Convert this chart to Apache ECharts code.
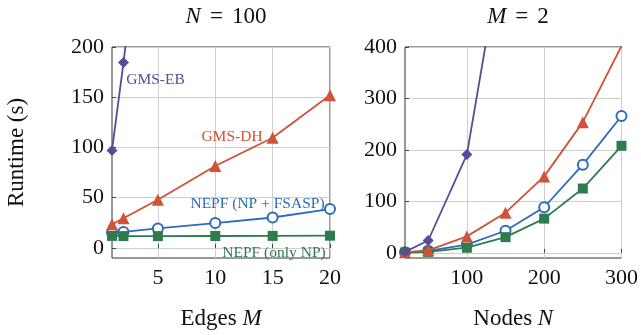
<!DOCTYPE html>
<html>
<head>
<meta charset="utf-8">
<script src="https://cdn.jsdelivr.net/npm/echarts@6/dist/echarts.min.js"></script>
<style>html,body{margin:0;padding:0;background:#fff}#c{width:641px;height:335px}</style>
</head>
<body>
<div id="c"></div>
<script>
// Left panel: N = 100, varying edges M
const edgesM = [1, 2, 5, 10, 15, 20];
const leftEB = [97, 184.5, 470, null, null, null];
const leftDH = [23.5, 29.6, 48, 81.5, 109.7, 152];
const leftNEPF = [15.5, 16, 19.4, 24.8, 30.3, 38.7];
const leftOnlyNP = [12, 11.8, 11.8, 11.9, 12, 12.2];
const leftXTicks = [5, 10, 15, 20];
const leftYTicks = [0, 50, 100, 150, 200];

// Right panel: M = 2, varying nodes N
const nodesN = [20, 50, 100, 150, 200, 250, 300];
const rightEB = [2, 24, 191, 630, null, null, null];
const rightDH = [1, 5, 32, 78, 148.6, 254, 402];
const rightNEPF = [1, 4, 16, 43, 88.6, 171.4, 266];
const rightOnlyNP = [0.5, 2, 10, 30.5, 66.5, 125, 208];
const rightXTicks = [100, 200, 300];
const rightYTicks = [0, 100, 200, 300, 400];

const seriesNames = ['GMS-EB', 'GMS-DH', 'NEPF (NP + FSASP)', 'NEPF (only NP)'];

const C_EB = '#5a4a98', C_DH = '#cf5239', C_NEPF = '#2b6cbf', C_NP = '#2e7b4f';
const FONT = 'Liberation Serif';
const TICK_FS = 22, NAME_FS = 23;

function pairs(xs, ys) { return xs.map((x, i) => [x, ys[i]]); }

function xAxis(idx, min, max, ticks, name) {
  return {
    type: 'value', gridIndex: idx, min: min, max: max,
    axisLine: { show: false },
    axisTick: { show: true, inside: true, length: 4, customValues: ticks, lineStyle: { color: '#444' } },
    axisLabel: { customValues: ticks, fontFamily: FONT, fontSize: TICK_FS, color: '#111', margin: 9 },
    splitLine: { show: true, lineStyle: { color: '#cfcfcf', width: 1 } },
    name: name, nameLocation: 'middle', nameGap: 49,
    nameTextStyle: { fontFamily: FONT, fontSize: NAME_FS, color: '#111',
      rich: { r: { fontFamily: FONT, fontSize: NAME_FS, color: '#111' },
              i: { fontFamily: FONT, fontSize: NAME_FS, fontStyle: 'italic', color: '#111' } } }
  };
}
function yAxis(idx, min, max, ticks, name) {
  return {
    type: 'value', gridIndex: idx, min: min, max: max,
    axisLine: { show: false },
    axisTick: { show: true, inside: true, length: 4, customValues: ticks, lineStyle: { color: '#444' } },
    axisLabel: { customValues: ticks, fontFamily: FONT, fontSize: TICK_FS, color: '#111', margin: 8 },
    splitLine: { show: true, lineStyle: { color: '#cfcfcf', width: 1 } },
    name: name, nameLocation: 'middle', nameGap: 84, nameRotate: 90,
    nameTextStyle: { fontFamily: FONT, fontSize: NAME_FS, color: '#111' }
  };
}
function line(name, xi, data, color, symbol, size, z) {
  const hollow = symbol === 'emptyCircle';
  return {
    name: name, type: 'line', xAxisIndex: xi, yAxisIndex: xi, data: data,
    symbol: symbol, symbolSize: size, showSymbol: true, clip: true, z: z,
    lineStyle: { color: color, width: 1.8 },
    itemStyle: { color: color, borderColor: color, borderWidth: hollow ? 2 : 0 },
    emphasis: { disabled: true }, animation: false
  };
}

const chart = echarts.init(document.getElementById('c'), null, { renderer: 'canvas' });
const titleRich = {
  i: { fontFamily: FONT, fontSize: NAME_FS, fontStyle: 'italic', fontWeight: 'normal', color: '#111' },
  e: { fontFamily: FONT, fontSize: NAME_FS, fontWeight: 'normal', color: '#111', padding: [0, 9] },
  n: { fontFamily: FONT, fontSize: NAME_FS, fontWeight: 'normal', color: '#111' }
};
chart.setOption({
  animation: false,
  backgroundColor: '#fff',
  title: [
    { text: '{i|N}{e|=}{n|100}', left: 221, top: 0, textAlign: 'center', textStyle: { fontWeight: 'normal', rich: titleRich } },
    { text: '{i|M}{e|=}{n|2}', left: 513, top: 0, textAlign: 'center', textStyle: { fontWeight: 'normal', rich: titleRich } }
  ],
  grid: [
    { left: 112, right: 311, top: 47, bottom: 72, show: true, borderColor: '#333', borderWidth: 1, backgroundColor: 'transparent' },
    { left: 405, right: 19, top: 47, bottom: 72, show: true, borderColor: '#333', borderWidth: 1, backgroundColor: 'transparent' }
  ],
  xAxis: [
    xAxis(0, 1, 20, leftXTicks, '{r|Edges }{i|M}'),
    xAxis(1, 20, 300, rightXTicks, '{r|Nodes }{i|N}')
  ],
  yAxis: [
    yAxis(0, -10, 200, leftYTicks, 'Runtime (s)'),
    yAxis(1, -10, 400, rightYTicks, '')
  ],
  series: [
    line(seriesNames[2], 0, pairs(edgesM, leftNEPF), C_NEPF, 'emptyCircle', 10, 2),
    line(seriesNames[3], 0, pairs(edgesM, leftOnlyNP), C_NP, 'rect', 10, 3),
    line(seriesNames[1], 0, pairs(edgesM, leftDH), C_DH, 'triangle', 12, 4),
    line(seriesNames[0], 0, pairs(edgesM, leftEB), C_EB, 'diamond', 11, 5),
    line(seriesNames[2], 1, pairs(nodesN, rightNEPF), C_NEPF, 'emptyCircle', 10, 2),
    line(seriesNames[3], 1, pairs(nodesN, rightOnlyNP), C_NP, 'rect', 10, 3),
    line(seriesNames[1], 1, pairs(nodesN, rightDH), C_DH, 'triangle', 12, 4),
    line(seriesNames[0], 1, pairs(nodesN, rightEB), C_EB, 'diamond', 11, 5)
  ],
  graphic: [
    { type: 'text', x: 155.5, y: 80, z: 10, style: { text: seriesNames[0], fill: C_EB, font: '15.5px "Liberation Serif"', align: 'center', verticalAlign: 'middle' } },
    { type: 'text', x: 232, y: 137, z: 10, style: { text: seriesNames[1], fill: C_DH, font: '15.5px "Liberation Serif"', align: 'center', verticalAlign: 'middle' } },
    { type: 'text', x: 257.5, y: 204, z: 10, style: { text: seriesNames[2], fill: C_NEPF, font: '15.5px "Liberation Serif"', align: 'center', verticalAlign: 'middle' } },
    { type: 'text', x: 274, y: 253, z: 10, style: { text: seriesNames[3], fill: C_NP, font: '15.5px "Liberation Serif"', align: 'center', verticalAlign: 'middle' } }
  ]
});
</script>
</body>
</html>
